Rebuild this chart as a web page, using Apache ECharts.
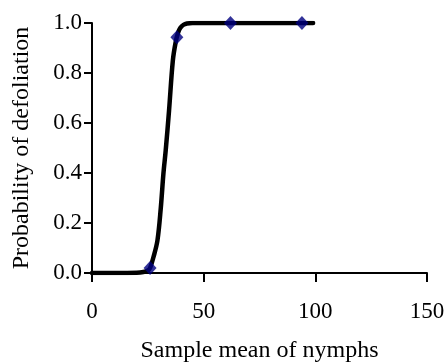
<!DOCTYPE html>
<html>
<head>
<meta charset="utf-8">
<script src="https://cdn.jsdelivr.net/npm/echarts@6/dist/echarts.min.js"></script>
<style>
  html, body { margin: 0; padding: 0; background: #fff; }
  #chart { width: 447px; height: 362px; }
</style>
</head>
<body>
<div id="chart"></div>
<script>
// fitted curve
const curveX = [0, 10, 20, 23, 25, 26, 27.5, 29.3, 30.8, 32, 33, 34.5, 36.2, 37.5, 38.5, 39.5, 41, 42.5, 45, 50, 62, 80, 94, 99];
const curveY = [0, 0, 0.001, 0.004, 0.01, 0.02, 0.063, 0.13, 0.26, 0.40, 0.49, 0.65, 0.85, 0.925, 0.96, 0.98, 0.993, 0.998, 1, 1, 1, 1, 1, 1];
// observed points
const obsX = [26, 38, 62, 94];
const obsY = [0.02, 0.943, 1.0, 1.0];

const xTicks = [0, 50, 100, 150];
const yTicks = [0, 0.2, 0.4, 0.6, 0.8, 1.0];

const font = 'Liberation Serif';
const chart = echarts.init(document.getElementById('chart'));

chart.setOption({
  animation: false,
  grid: { left: 92, right: 20, top: 23, bottom: 89, outerBoundsMode: 'none' },
  xAxis: {
    type: 'value',
    min: xTicks[0],
    max: xTicks[xTicks.length - 1],
    interval: 50,
    name: 'Sample mean of nymphs',
    nameLocation: 'middle',
    nameGap: 66,
    nameTextStyle: { color: '#000', fontFamily: font, fontSize: 24 },
    axisLine: { onZero: false, lineStyle: { color: '#000', width: 2 } },
    axisTick: { inside: false, length: 9, lineStyle: { color: '#000', width: 2 } },
    axisLabel: { color: '#000', fontFamily: font, fontSize: 23, margin: 27 },
    splitLine: { show: false }
  },
  yAxis: {
    type: 'value',
    min: yTicks[0],
    max: yTicks[yTicks.length - 1],
    interval: 0.2,
    name: 'Probability of defoliation',
    nameLocation: 'middle',
    nameGap: 58,
    nameTextStyle: { color: '#000', fontFamily: font, fontSize: 24 },
    axisLine: { show: true, lineStyle: { color: '#000', width: 2 } },
    axisTick: { show: true, inside: false, length: 8, lineStyle: { color: '#000', width: 2 } },
    axisLabel: {
      color: '#000', fontFamily: font, fontSize: 23, margin: 10,
      formatter: v => v.toFixed(1)
    },
    splitLine: { show: false }
  },
  series: [
    {
      name: 'fit',
      type: 'line',
      data: curveX.map((x, i) => [x, curveY[i]]),
      showSymbol: false,
      smooth: 0.35,
      lineStyle: { color: '#000', width: 4.5, cap: 'round' },
      z: 2
    },
    {
      name: 'observed',
      type: 'scatter',
      data: obsX.map((x, i) => [x, obsY[i]]),
      symbol: 'diamond',
      symbolSize: [13, 14],
      itemStyle: { color: '#000080' },
      z: 3
    }
  ]
});
</script>
</body>
</html>
